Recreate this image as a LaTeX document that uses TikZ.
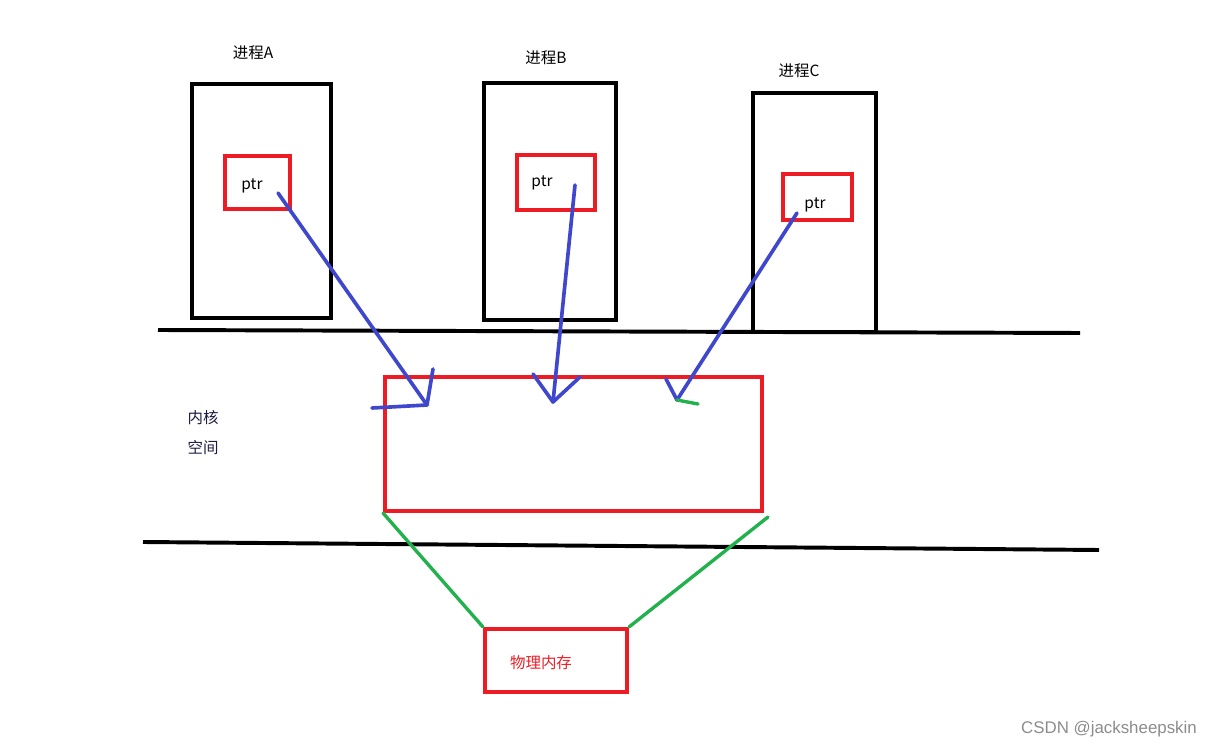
\documentclass[tikz,border=0pt]{standalone}
\usepackage{fontspec}
\setmainfont{Noto Sans CJK SC}
\newfontfamily\latinfont{Liberation Sans}
\usepackage{tikz}
\usetikzlibrary{positioning,calc}

\definecolor{paintred}{HTML}{ED1C24}
\definecolor{paintblue}{HTML}{3F48CC}
\definecolor{paintgreen}{HTML}{22B14C}
\definecolor{kerneltext}{HTML}{1A1A40}

\begin{document}
\begin{tikzpicture}[
        x=0.025cm, y=-0.025cm,
        every node/.style={inner sep=0pt, font=\fontsize{11}{13}\selectfont},
        procbox/.style={draw=black, line width=2.8pt, minimum width=#1},
        ptrbox/.style={draw=paintred, line width=2.6pt},
        redbox/.style={draw=paintred, line width=2.8pt},
        divider/.style={draw=black, line width=2.8pt},
        pointer/.style={draw=paintblue, line width=2.6pt, line cap=round},
        mapline/.style={draw=paintgreen, line width=2.4pt, line cap=round}
    ]
        \useasboundingbox (0,0) rectangle (1218,747);

        % Nodes
        \node (procA) [procbox=3.475cm, minimum height=5.85cm] at (261.5,201) {};
        \node (procB) [procbox=3.3cm, minimum height=5.925cm] at (550,201.5) {};
        \node (procC) [procbox=3.075cm, minimum height=5.975cm] at (814.5,212.5) {};
        \node (nameA) at (253,53) {进程A};
        \node (nameB) at (546,58) {进程B};
        \node (nameC) at (799,71) {进程C};

        \node (ptrA) [ptrbox, minimum width=1.625cm, minimum height=1.325cm] at (257.5,182.5) {};
        \node (ptrB) [ptrbox, minimum width=1.95cm, minimum height=1.375cm] at (556,182.5) {};
        \node (ptrC) [ptrbox, minimum width=1.725cm, minimum height=1.15cm] at (817.5,197) {};
        \node (ptrtxtA) at (252,186) {ptr};
        \node (ptrtxtB) at (542,183) {ptr};
        \node (ptrtxtC) at (815,205) {ptr};

        \node (kernel) [redbox, minimum width=9.425cm, minimum height=3.35cm] at (573.5,444) {};
        \node (kspace) [text=kerneltext, align=left] at (203,432.5) {内核\\[8pt]空间};
        \node (mem) [redbox, minimum width=3.55cm, minimum height=1.575cm] at (556,660.5) {};
        \node (memtxt) [text=paintred] at (541,663) {物理内存};
        \node (credit) [text=black!45, font=\latinfont\fontsize{12}{14}\selectfont] at (1109,729) {CSDN @jacksheepskin};

        % Boundaries
        \coordinate (userL) at (158,330);
        \coordinate (userR) at (1080,333);
        \coordinate (kernL) at (143,542);
        \coordinate (kernR) at (1099,550);
        \draw[divider] (userL) -- (userR);
        \draw[divider] (kernL) -- (kernR);

        % Arrows
        \coordinate (tailA) at (278,193);
        \coordinate (tipA) at (427,405);
        \coordinate (tailB) at (575,185);
        \coordinate (tipB) at (553,402);
        \coordinate (tailC) at (797,213);
        \coordinate (tipC) at (677,400);
        \draw[pointer] (tailA) -- (tipA);
        \draw[pointer] (tipA) -- ++(6,-36);
        \draw[pointer] (tipA) -- ++(-55,3);
        \draw[pointer] (tailB) -- (tipB);
        \draw[pointer] (tipB) -- ++(-20,-28);
        \draw[pointer] (tipB) -- ++(27,-25);
        \draw[pointer] (tailC) -- (tipC);
        \draw[pointer] (tipC) -- ++(-11,-21);
        \draw[mapline] (tipC) -- ++(21,4);

        % Mapping
        \draw[mapline] (kernel.south west) -- (mem.north west);
        \draw[mapline] ($(kernel.south east)+(4,4)$) -- (mem.north east);
    \end{tikzpicture}
\end{document}
